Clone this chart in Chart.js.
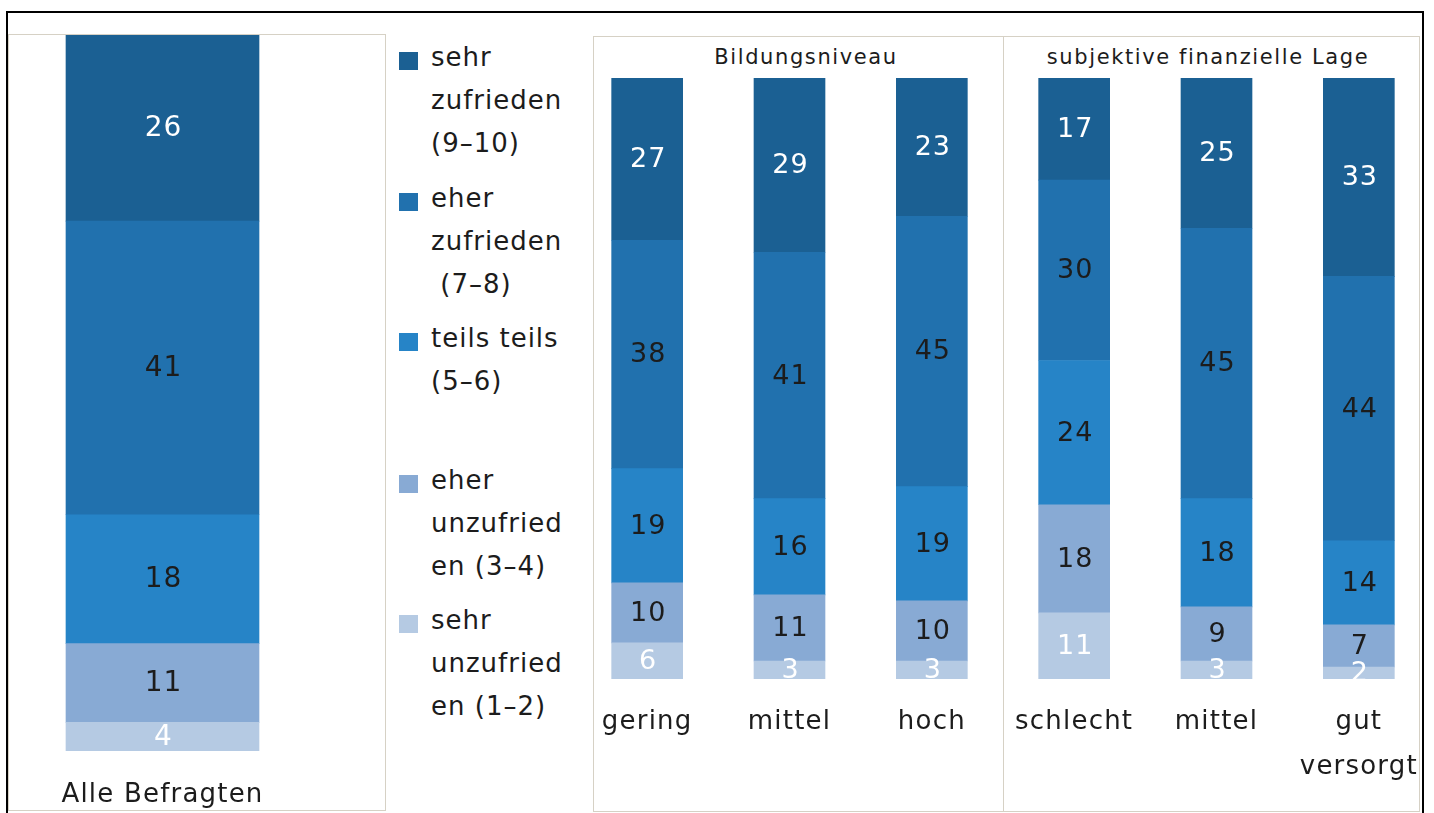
<!DOCTYPE html>
<html>
<head>
<meta charset="utf-8">
<script src="https://cdn.jsdelivr.net/npm/chart.js@4.4.1/dist/chart.umd.min.js"></script>
<style>
  body { margin: 0; width: 1434px; height: 813px; overflow: hidden; position: relative; background: #fff;
         font-family: "DejaVu Sans", sans-serif; color: #1c1c1c; letter-spacing: 1px; }
  #frame { position: absolute; left: 6px; top: 11px; width: 1414px; height: 820px; border: 2px solid #000; border-bottom: none; }
  .panel { position: absolute; border: 1px solid #d6d1c5; }
  #divider { position: absolute; left: 1003px; top: 36px; width: 1px; height: 776px; background: #d6d1c5; }
  .group { position: absolute; top: 45px; font-size: 21px; line-height: 24px; letter-spacing: 1.6px; transform: translateX(-50%); white-space: nowrap; }
  .item { position: absolute; left: 399px; font-size: 26px; line-height: 43px; }
  .item i { position: absolute; left: 0; top: 16px; width: 19px; height: 18px; }
  .item span { display: block; margin-left: 32px; white-space: pre; }
  canvas { position: absolute; }
</style>
</head>
<body>
<div id="frame"></div>
<div class="panel" style="left:8px;top:34px;width:376px;height:775px"></div>
<div class="panel" style="left:593px;top:36px;width:825px;height:774px"></div>
<div id="divider"></div>
<div class="group" style="left:806px">Bildungsniveau</div>
<div class="group" style="left:1208px">subjektive finanzielle Lage</div>
<div id="legend"></div>
<canvas id="all" width="309" height="775" style="left:8px;top:35px"></canvas>
<canvas id="groups" width="854" height="776" style="left:576px;top:36px"></canvas>
<script>
const seriesNames = ["sehr zufrieden (9–10)", "eher zufrieden (7–8)", "teils teils (5–6)",
  "eher unzufrieden (3–4)", "sehr unzufrieden (1–2)"];
const legendLines = [
  ["sehr", "zufrieden", "(9–10)"],
  ["eher", "zufrieden", " (7–8)"],
  ["teils teils", "(5–6)"],
  ["eher", "unzufried", "en (3–4)"],
  ["sehr", "unzufried", "en (1–2)"]
];
const legendTops = [36, 177, 317, 459, 599];
const colors = ["#1b6093", "#2171ae", "#2684c7", "#88aad4", "#b5cae3"];
const valueColors = ["#ffffff", "#1c1c1c", "#1c1c1c", "#1c1c1c", "#ffffff"];

// Alle Befragten
const allCategory = ["Alle Befragten"];
const allValues = [26, 41, 18, 11, 4];

// Bildungsniveau + subjektive finanzielle Lage
const categories = ["gering", "mittel", "hoch", "schlecht", "mittel", ["gut", "versorgt"]];
const sehrZufrieden   = [27, 29, 23, 17, 25, 33];
const eherZufrieden   = [38, 41, 45, 30, 45, 44];
const teilsTeils      = [19, 16, 19, 24, 18, 14];
const eherUnzufrieden = [10, 11, 10, 18, 9, 7];
const sehrUnzufrieden = [6, 3, 3, 11, 3, 2];

// legend
const legend = document.querySelector("#legend");
legendLines.forEach((lines, i) => {
  const d = document.createElement("div");
  d.className = "item";
  d.style.top = legendTops[i] + "px";
  d.innerHTML = `<i style="background:${colors[i]}"></i>` + lines.map(l => `<span>${l}</span>`).join("");
  legend.appendChild(d);
});

const valueLabels = {
  id: "valueLabels",
  beforeDraw(chart) {
    chart.ctx.letterSpacing = "1.2px";
  },
  afterDatasetsDraw(chart, args, opts) {
    const ctx = chart.ctx;
    ctx.save();
    ctx.letterSpacing = "1px";
    ctx.font = opts.size + 'px "DejaVu Sans"';
    ctx.textAlign = "center";
    ctx.textBaseline = "middle";
    chart.data.datasets.forEach((ds, i) => {
      chart.getDatasetMeta(i).data.forEach((bar, j) => {
        ctx.fillStyle = ds.valueColor;
        ctx.fillText(ds.data[j], bar.x + 1, (bar.y + bar.base) / 2 + 1);
      });
    });
    ctx.restore();
  }
};

function makeDatasets(rows, thickness) {
  // first dataset sits at the bottom of the stack, so reverse
  return rows.map((data, i) => ({
    label: seriesNames[i],
    data: data,
    backgroundColor: colors[i],
    valueColor: valueColors[i],
    barThickness: thickness,
    borderWidth: 0
  })).reverse();
}

function makeChart(el, labels, datasets, opt) {
  return new Chart(el, {
    type: "bar",
    data: { labels: labels, datasets: datasets },
    plugins: [valueLabels],
    options: {
      responsive: false,
      animation: false,
      layout: { padding: { top: opt.top, left: 0, right: 0, bottom: 0 } },
      plugins: {
        legend: { display: false },
        tooltip: { enabled: false },
        valueLabels: { size: opt.valueSize }
      },
      scales: {
        x: {
          stacked: true,
          grid: { display: false, drawTicks: true, tickLength: opt.gap },
          border: { display: false },
          ticks: {
            color: "#1c1c1c",
            padding: 0,
            maxRotation: 0,
            autoSkip: false,
            font: { family: "DejaVu Sans", size: 26, lineHeight: opt.lineHeight }
          },
          afterFit: (scale) => { scale.height = opt.axisHeight; }
        },
        y: { stacked: true, display: false, min: 0, max: 100 }
      }
    }
  });
}

makeChart(document.querySelector("#all"), allCategory,
  makeDatasets(allValues.map(v => [v]), 193),
  { top: 0, valueSize: 28, gap: 29, lineHeight: 1.2, axisHeight: 59 });

makeChart(document.querySelector("#groups"), categories,
  makeDatasets([sehrZufrieden, eherZufrieden, teilsTeils, eherUnzufrieden, sehrUnzufrieden], 71),
  { top: 42, valueSize: 27, gap: 21, lineHeight: 1.73, axisHeight: 133 });
</script>
</body>
</html>
